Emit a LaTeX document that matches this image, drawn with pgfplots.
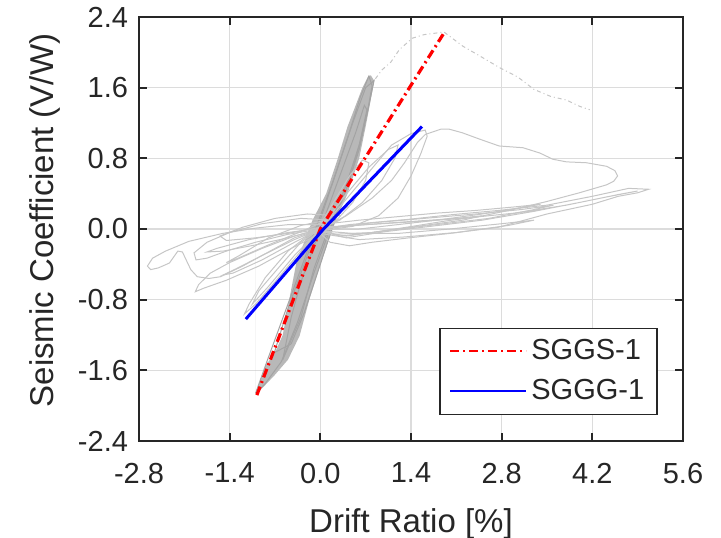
\documentclass[border=0pt]{standalone}
\usepackage{fontspec}
\setmainfont{Liberation Sans}
\usepackage{pgfplots}
\pgfplotsset{compat=1.18}
\definecolor{hyst}{RGB}{198,198,198}
\definecolor{band}{RGB}{184,184,184}
\definecolor{bandline}{RGB}{163,163,163}
\definecolor{framec}{RGB}{38,38,38}
\definecolor{gridc}{RGB}{220,220,220}

\begin{document}
\begin{tikzpicture}
\begin{axis}[
  scale only axis, width=272bp, height=212bp,
  xmin=-2.8, xmax=5.6, ymin=-2.4, ymax=2.4,
  xtick={-2.8,-1.4,0,1.4,2.8,4.2,5.6},
  ytick={-2.4,-1.6,-0.8,0,0.8,1.6,2.4},
  xticklabels={-2.8,-1.4,0.0,1.4,2.8,4.2,5.6},
  yticklabels={-2.4,-1.6,-0.8,0.0,0.8,1.6,2.4},
  axis line style={framec, line width=1bp},
  major tick length=0pt,
  tick label style={font=\fontsize{14.5bp}{17bp}\selectfont, text=framec},
  xticklabel style={yshift=-7.5bp},
  yticklabel style={xshift=-2bp},
  label style={font=\fontsize{16.5bp}{19bp}\selectfont, text=framec},
  xlabel={Drift Ratio [\%]},
  ylabel={Seismic Coefficient (V/W)},
  xlabel style={at={(axis description cs:0.5,0)}, anchor=base, yshift=-45.5bp},
  ylabel style={at={(axis description cs:-0.158,0.52)}, anchor=base},
  grid=major, grid style={gridc, line width=0.6bp},
  legend style={at={(axis description cs:0.954,0.061)}, anchor=south east,
    draw=framec, line width=0.8bp, text=framec,
    font=\fontsize{14.5bp}{17bp}\selectfont,
    inner xsep=4.5bp, inner ysep=3.7bp, row sep=4.4bp},
  legend cell align=left,
  legend image code/.code={\draw[#1, line width=1.1bp] (0bp,0bp) -- (38bp,0bp);},
  clip=false,
]
% steep band of the small cycles
\addplot[fill=band, draw=none, forget plot] coordinates {
(-1.0,-1.86) (-0.85,-1.55) (-0.70,-1.40) (-0.58,-1.2) (-0.48,-0.8) (-0.37,-0.38)
(-0.12,0.1) (0.09,0.4) (0.27,0.8) (0.42,1.16) (0.52,1.35) (0.65,1.6) (0.74,1.73)
(0.78,1.74) (0.83,1.68) (0.8,1.55) (0.75,1.35) (0.70,1.16) (0.6,0.8) (0.42,0.4)
(0.24,0.1) (0.01,-0.38) (-0.17,-0.8) (-0.32,-1.21) (-0.5,-1.48) (-0.7,-1.65)
(-0.92,-1.82) (-1.0,-1.86)} \closedcycle;
\addplot[bandline, line width=0.5bp, forget plot] coordinates {
(-1.0,-1.86) (-0.8,-1.45) (-0.55,-0.95) (-0.3,-0.45) (-0.05,0.05) (0.2,0.55)
(0.45,1.1) (0.62,1.5) (0.75,1.73) (0.8,1.62) (0.72,1.3) (0.6,0.9) (0.4,0.45)
(0.15,0.0) (-0.1,-0.5) (-0.35,-1.05) (-0.6,-1.5) (-0.85,-1.75) (-1.0,-1.86)};
\addplot[bandline, line width=0.5bp, forget plot] coordinates {
(-0.71,-1.40) (-0.5,-0.9) (-0.3,-0.5) (-0.05,0.0) (0.25,0.65) (0.5,1.2) (0.7,1.6)
(0.83,1.68) (0.75,1.4) (0.62,1.0) (0.45,0.55) (0.2,0.05) (0.0,-0.4) (-0.25,-0.95)
(-0.45,-1.3) (-0.71,-1.40)};
\addplot[bandline, line width=0.5bp, forget plot] coordinates {
(-0.58,-1.48) (-0.45,-1.0) (-0.3,-0.6) (0.0,0.0) (0.3,0.6) (0.55,1.1) (0.68,1.4)
(0.72,1.35) (0.6,0.95) (0.4,0.5) (0.15,0.05) (-0.1,-0.45) (-0.3,-1.0) (-0.58,-1.48)};
% post-peak branch
\addplot[hyst, line width=0.5bp, dash pattern=on 2bp off 1.5bp on 0.5bp off 1.5bp, forget plot] coordinates {
(0.85,1.70) (0.95,1.80) (1.09,1.89) (1.22,2.03) (1.42,2.16) (1.60,2.20) (1.91,2.23)
(2.20,2.07) (2.46,1.96) (2.76,1.83) (3.05,1.72) (3.30,1.58) (3.56,1.50) (3.80,1.46)
(4.0,1.39) (4.16,1.35)};
% large outer cycle
\addplot[hyst, line width=0.5bp, forget plot] coordinates {
(0,0) (0.4,0.15) (0.8,0.35) (1.1,0.55) (1.3,0.75) (1.5,0.98) (1.62,1.07) (1.70,1.09)
(1.86,1.13) (1.99,1.13) (2.19,1.09) (2.45,1.02) (2.76,0.94) (3.13,0.92) (3.39,0.86)
(3.59,0.79) (3.80,0.76) (4.11,0.75) (4.42,0.71) (4.55,0.66) (4.59,0.60) (4.53,0.54)
(4.42,0.50) (4.0,0.41) (3.49,0.31) (2.97,0.22) (2.45,0.14) (1.93,0.09) (1.42,0.03)
(0.8,-0.04) (0.3,-0.08) (0,0)};
% long cycles to the right
\addplot[hyst, line width=0.5bp, forget plot] coordinates {
(0,0.0) (0.45,0.05) (1.37,0.11) (2.0,0.16) (2.75,0.21) (3.5,0.27) (4.2,0.37)
(4.76,0.46) (5.07,0.45) (4.9,0.41) (4.6,0.37) (4.2,0.28) (3.5,0.17) (2.75,0.02)
(2.0,-0.05) (1.37,-0.1) (0.8,-0.15) (0.45,-0.19) (0.15,-0.15) (0,-0.05)};
\addplot[hyst, line width=0.5bp, forget plot] coordinates {
(0,0.02) (0.5,0.04) (1.4,0.08) (2.2,0.12) (3.0,0.18) (3.8,0.27) (4.4,0.36) (4.9,0.43)
(4.6,0.39) (4.0,0.3) (3.3,0.2) (2.5,0.1) (1.7,0.03) (1.0,-0.03) (0.4,-0.1) (0,-0.02)};
\addplot[hyst, line width=0.5bp, forget plot] coordinates {
(0,0) (0.8,0.07) (1.6,0.12) (2.4,0.17) (3.1,0.22) (3.6,0.27) (3.3,0.22) (2.6,0.12)
(1.8,0.05) (1.0,-0.02) (0.4,-0.08) (0,-0.03)};
\addplot[hyst, line width=0.5bp, forget plot] coordinates {
(0,0) (0.7,0.05) (1.5,0.09) (2.1,0.12) (2.5,0.15) (2.2,0.1) (1.5,0.03) (0.8,-0.04)
(0.2,-0.06) (0,0)};
\addplot[hyst, line width=0.5bp, forget plot] coordinates {
(0,0.05) (0.6,0.1) (1.2,0.14) (1.8,0.18) (2.4,0.21) (3.0,0.25) (3.4,0.28) (3.1,0.24)
(2.5,0.17) (1.8,0.1) (1.2,0.05) (0.6,0.0) (0,0)};
\addplot[hyst, line width=0.5bp, forget plot] coordinates {
(0,-0.02) (0.5,-0.05) (1.2,-0.05) (2.0,0.0) (2.8,0.06) (3.3,0.1) (2.9,0.04)
(2.1,-0.04) (1.3,-0.09) (0.6,-0.12) (0,-0.05)};
% cycles in the first quadrant
\addplot[hyst, line width=0.5bp, forget plot] coordinates {
(0,0) (0.3,0.25) (0.7,0.6) (1.1,0.95) (1.4,1.08) (1.62,1.12) (1.65,1.05) (1.55,0.85)
(1.4,0.6) (1.2,0.35) (0.9,0.15) (0.5,0.03) (0,-0.02)};
\addplot[hyst, line width=0.5bp, forget plot] coordinates {
(0,0) (0.35,0.35) (0.75,0.7) (1.05,0.9) (1.2,0.95) (1.15,0.8) (0.95,0.55) (0.65,0.3)
(0.3,0.1) (0,0)};
\addplot[hyst, line width=0.5bp, forget plot] coordinates {
(0,0.05) (0.2,0.3) (0.45,0.6) (0.65,0.78) (0.75,0.75) (0.7,0.55) (0.5,0.3) (0.25,0.1)
(0,0)};
% cycles to the left
\addplot[hyst, line width=0.5bp, forget plot] coordinates {
(0.1,0.05) (-0.49,0.05) (-1.0,0.01) (-1.51,-0.05) (-2.03,-0.14) (-2.39,-0.25)
(-2.59,-0.33) (-2.67,-0.42) (-2.62,-0.46) (-2.5,-0.44) (-2.33,-0.385) (-2.2,-0.25)
(-2.13,-0.26) (-2.0,-0.46) (-1.9,-0.54) (-1.72,-0.56) (-1.54,-0.54) (-1.2,-0.42)
(-0.8,-0.26) (-0.4,-0.1) (0,0)};
\addplot[hyst, line width=0.5bp, forget plot] coordinates {
(0.2,0.1) (-0.3,0.12) (-0.9,0.06) (-1.4,-0.04) (-1.75,-0.15) (-1.95,-0.27)
(-1.92,-0.35) (-1.75,-0.33) (-1.45,-0.25) (-1.0,-0.15) (-0.5,-0.06) (0,0)};
\addplot[hyst, line width=0.5bp, forget plot] coordinates {
(0,-0.05) (-0.45,-0.22) (-0.95,-0.42) (-1.45,-0.58) (-1.8,-0.67) (-1.93,-0.71)
(-1.88,-0.63) (-1.7,-0.5) (-1.4,-0.38) (-0.9,-0.22) (-0.4,-0.08) (0,0)};
\addplot[hyst, line width=0.5bp, forget plot] coordinates {
(0.3,0.15) (-0.2,0.17) (-0.7,0.12) (-1.2,0.02) (-1.55,-0.08) (-1.45,-0.13)
(-1.0,-0.1) (-0.5,-0.05) (0,0.02)};
\addplot[hyst, line width=0.5bp, forget plot] coordinates {
(0.1,0.02) (-0.5,-0.04) (-1.1,-0.12) (-1.6,-0.22) (-1.75,-0.26) (-1.5,-0.25)
(-1.0,-0.18) (-0.5,-0.1) (0,0)};
\addplot[hyst, line width=0.5bp, forget plot] coordinates {
(0,0) (-0.4,-0.12) (-0.9,-0.3) (-1.3,-0.45) (-1.5,-0.52) (-1.35,-0.5) (-0.9,-0.35)
(-0.45,-0.17) (0,0)};
\addplot[hyst, line width=0.5bp, forget plot] coordinates {
(0.1,0.1) (-0.3,0.04) (-0.8,-0.1) (-1.25,-0.3) (-1.45,-0.38) (-1.3,-0.34) (-0.8,-0.18)
(-0.3,-0.03) (0.1,0.1)};
\addplot[hyst, line width=0.5bp, forget plot] coordinates {
(0,0) (-0.3,-0.25) (-0.7,-0.6) (-1.0,-0.85) (-1.17,-0.96) (-1.1,-0.85) (-0.85,-0.55)
(-0.5,-0.25) (-0.2,-0.08) (0,0)};
\addplot[hyst, line width=0.5bp, forget plot] coordinates {
(0,0) (-0.4,-0.3) (-0.8,-0.65) (-1.05,-0.85) (-0.95,-0.7) (-0.6,-0.4) (-0.3,-0.15)
(0,0)};
% idealised envelopes
\addplot[red, line width=1.6bp, dash pattern=on 4.5bp off 2bp on 1bp off 2bp] coordinates {
(-0.98,-1.88) (0,0) (1.91,2.22)};
\addlegendentry{SGGS-1}
\addplot[blue, line width=1.5bp] coordinates {
(-1.15,-1.02) (0.05,0.0) (1.57,1.16)};
\addlegendentry{SGGG-1}
% inward tick marks on all four sides
\pgfplotsinvokeforeach{-1.4,0,1.4,2.8,4.2}{
  \draw[framec, line width=1bp] (axis cs:#1,-2.4) -- ++(0pt,4bp);
  \draw[framec, line width=1bp] (axis cs:#1,2.4) -- ++(0pt,-4bp);
}
\pgfplotsinvokeforeach{-1.6,-0.8,0,0.8,1.6}{
  \draw[framec, line width=1bp] (axis cs:-2.8,#1) -- ++(4bp,0pt);
  \draw[framec, line width=1bp] (axis cs:5.6,#1) -- ++(-4bp,0pt);
}
\end{axis}
\pgfresetboundingbox
\path (current axis.south west) ++(-69.5bp,-48.5bp) rectangle ++(360.5bp,269bp);
\end{tikzpicture}
\end{document}
